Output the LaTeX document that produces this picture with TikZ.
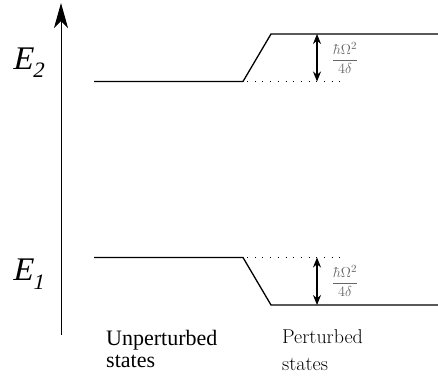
\documentclass[tikz,border=0pt]{standalone}
\usepackage[no-math]{fontspec}
\newfontfamily\timesfont{Liberation Serif}
\newfontfamily\timesslant{Liberation Serif}[FakeSlant=0.22]
\usetikzlibrary{arrows.meta}
\begin{document}
\begin{tikzpicture}[x=1pt,y=-1pt,
  level/.style={line width=1.3pt,line join=miter},
  dots/.style={line width=1pt,dash pattern=on 1pt off 6.7pt},
  gap/.style={line width=1.1pt,{Stealth[length=10pt,width=8pt]}-{Stealth[length=10pt,width=8pt]}},
  elabel/.style={anchor=base west,inner sep=0pt,font=\fontsize{33}{33}\timesslant},
  frac/.style={inner sep=0pt,text=black!60,font=\fontsize{15}{18}\selectfont},
  ulabel/.style={anchor=base west,inner sep=0pt,font=\fontsize{22}{24}\timesfont},
  plabel/.style={anchor=base west,inner sep=0pt,font=\fontsize{20}{24}\selectfont}]
\useasboundingbox (0,0) rectangle (438,379);
% axis
\coordinate (axb) at (61,335);
\coordinate (axt) at (61,3);
\draw[line width=1pt,-{Stealth[length=25pt,width=14pt,inset=7pt]}] (axb) -- (axt);
% labels
\node[elabel] (e2) at (12,70) {E\raisebox{-8pt}{\fontsize{22}{22}\selectfont 2}};
\node[elabel] (e1) at (12,280) {E\raisebox{-9pt}{\fontsize{22}{22}\selectfont 1}};
% upper level
\coordinate (u0) at (94,81.5);
\coordinate (u1) at (243,81.5);
\coordinate (u2) at (271,34);
\coordinate (u3) at (439,34);
\coordinate (ud) at (340,81.5);
\draw[level] (u0) -- (u1) -- (u2) -- (u3);
\draw[dots] (u1) ++(4,0) -- (ud);
\coordinate (ua) at (317,34);
\coordinate (ub) at (317,81.5);
\draw[gap] (ua) -- (ub);
\node[frac] (fu) at (345,58) {$\displaystyle\frac{\hbar\Omega^2}{4\delta}$};
% lower level
\coordinate (l0) at (94,257.5);
\coordinate (l1) at (243,257.5);
\coordinate (l2) at (271,305);
\coordinate (l3) at (439,305);
\coordinate (ld) at (340,257.5);
\draw[level] (l0) -- (l1) -- (l2) -- (l3);
\draw[dots] (l1) ++(4,0) -- (ld);
\coordinate (la) at (317,257.5);
\coordinate (lb) at (317,305);
\draw[gap] (la) -- (lb);
\node[frac] (fl) at (345,281) {$\displaystyle\frac{\hbar\Omega^2}{4\delta}$};
% captions
\node[ulabel] (ua1) at (106,345.5) {Unperturbed};
\node[ulabel] (ua2) at (106,367.5) {states};
\node[plabel] (pa1) at (282,343.5) {Perturbed};
\node[plabel] (pa2) at (282,370) {states};
\end{tikzpicture}
\end{document}
